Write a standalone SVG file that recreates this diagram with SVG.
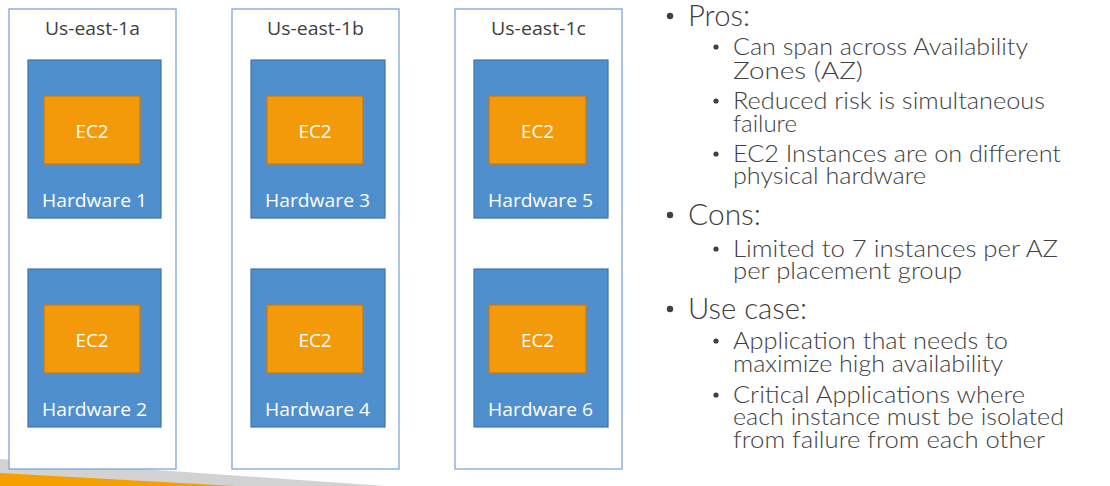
<svg xmlns="http://www.w3.org/2000/svg" width="1110" height="486" viewBox="0 0 1110 486">
<style>
.az{fill:#fff;stroke:#7ea6d8;stroke-width:1.3}
.hw{fill:#4f8fce;stroke:#3f74ad;stroke-width:1.2}
.ec2{fill:#f39a0a;stroke:#c57b1c;stroke-width:1.2}
.azt{font-family:"Open Sans","Noto Sans",sans-serif;font-size:19px;fill:#404040;text-anchor:middle}
.wt{font-family:"Open Sans","Noto Sans",sans-serif;font-size:19px;fill:#ffffff;text-anchor:middle}
.h1{font-family:Lato,"Open Sans",sans-serif;font-weight:300;font-size:30px;fill:#404040}
.h2{font-family:Lato,"Open Sans",sans-serif;font-weight:300;font-size:23px;fill:#404040}
.b1{fill:#404040}
</style>
<rect width="1110" height="486" fill="#ffffff"/>
<polygon points="0,459 385,486 0,486" fill="#d2d2d2"/>
<polygon points="0,473 235,486 0,486" fill="#f5a000"/>

<g id="az-1a">
<rect class="az" x="9" y="9" width="167" height="460"/>
<text class="azt" x="92.5" y="35" textLength="95" lengthAdjust="spacingAndGlyphs">Us-east-1a</text>
</g>
<g id="az-1b">
<rect class="az" x="232" y="9" width="167" height="460"/>
<text class="azt" x="315.5" y="35" textLength="97" lengthAdjust="spacingAndGlyphs">Us-east-1b</text>
</g>
<g id="az-1c">
<rect class="az" x="455" y="9" width="167" height="460"/>
<text class="azt" x="538.5" y="35" textLength="95" lengthAdjust="spacingAndGlyphs">Us-east-1c</text>
</g>

<g id="hw1">
<rect class="hw" x="28" y="60" width="133" height="158"/>
<rect class="ec2" x="44" y="96" width="96" height="68"/>
<text class="wt" x="92" y="138" textLength="33" lengthAdjust="spacingAndGlyphs">EC2</text>
<text class="wt" x="94.5" y="207" textLength="105" lengthAdjust="spacingAndGlyphs">Hardware 1</text>
</g>
<g id="hw2">
<rect class="hw" x="28" y="269" width="133" height="158"/>
<rect class="ec2" x="44" y="305" width="96" height="68"/>
<text class="wt" x="92" y="347" textLength="33" lengthAdjust="spacingAndGlyphs">EC2</text>
<text class="wt" x="94.5" y="416" textLength="105" lengthAdjust="spacingAndGlyphs">Hardware 2</text>
</g>
<g id="hw3">
<rect class="hw" x="251" y="60" width="134" height="158"/>
<rect class="ec2" x="267" y="96" width="96" height="68"/>
<text class="wt" x="315" y="138" textLength="33" lengthAdjust="spacingAndGlyphs">EC2</text>
<text class="wt" x="317.5" y="207" textLength="105" lengthAdjust="spacingAndGlyphs">Hardware 3</text>
</g>
<g id="hw4">
<rect class="hw" x="251" y="269" width="134" height="158"/>
<rect class="ec2" x="267" y="305" width="96" height="68"/>
<text class="wt" x="315" y="347" textLength="33" lengthAdjust="spacingAndGlyphs">EC2</text>
<text class="wt" x="317.5" y="416" textLength="105" lengthAdjust="spacingAndGlyphs">Hardware 4</text>
</g>
<g id="hw5">
<rect class="hw" x="474" y="60" width="134" height="158"/>
<rect class="ec2" x="489" y="96" width="97" height="68"/>
<text class="wt" x="537.5" y="138" textLength="33" lengthAdjust="spacingAndGlyphs">EC2</text>
<text class="wt" x="540.5" y="207" textLength="105" lengthAdjust="spacingAndGlyphs">Hardware 5</text>
</g>
<g id="hw6">
<rect class="hw" x="474" y="269" width="134" height="158"/>
<rect class="ec2" x="489" y="305" width="97" height="68"/>
<text class="wt" x="537.5" y="347" textLength="33" lengthAdjust="spacingAndGlyphs">EC2</text>
<text class="wt" x="540.5" y="416" textLength="105" lengthAdjust="spacingAndGlyphs">Hardware 6</text>
</g>

<g id="connectors"></g>

<g id="bullets">
<circle class="b1" cx="670" cy="16" r="3.2"/>
<text class="h1" x="688" y="26" textLength="62" lengthAdjust="spacingAndGlyphs">Pros:</text>
<circle class="b1" cx="716" cy="47" r="2.6"/>
<text class="h2" x="733" y="55" textLength="295" lengthAdjust="spacingAndGlyphs">Can span across Availability</text>
<text class="h2" x="733" y="79" textLength="130" lengthAdjust="spacingAndGlyphs">Zones (AZ)</text>
<circle class="b1" cx="716" cy="101" r="2.6"/>
<text class="h2" x="733" y="109" textLength="312" lengthAdjust="spacingAndGlyphs">Reduced risk is simultaneous</text>
<text class="h2" x="733" y="132" textLength="64" lengthAdjust="spacingAndGlyphs">failure</text>
<circle class="b1" cx="716" cy="154" r="2.6"/>
<text class="h2" x="733" y="162" textLength="328" lengthAdjust="spacingAndGlyphs">EC2 Instances are on different</text>
<text class="h2" x="733" y="184" textLength="193" lengthAdjust="spacingAndGlyphs">physical hardware</text>
<circle class="b1" cx="670" cy="215" r="3.2"/>
<text class="h1" x="688" y="225" textLength="73" lengthAdjust="spacingAndGlyphs">Cons:</text>
<circle class="b1" cx="716" cy="249" r="2.6"/>
<text class="h2" x="733" y="257" textLength="325" lengthAdjust="spacingAndGlyphs">Limited to 7 instances per AZ</text>
<text class="h2" x="733" y="279" textLength="229" lengthAdjust="spacingAndGlyphs">per placement group</text>
<circle class="b1" cx="670" cy="309" r="3.2"/>
<text class="h1" x="688" y="319" textLength="119" lengthAdjust="spacingAndGlyphs">Use case:</text>
<circle class="b1" cx="716" cy="341" r="2.6"/>
<text class="h2" x="733" y="349" textLength="275" lengthAdjust="spacingAndGlyphs">Application that needs to</text>
<text class="h2" x="733" y="372" textLength="270" lengthAdjust="spacingAndGlyphs">maximize high availability</text>
<circle class="b1" cx="716" cy="395" r="2.6"/>
<text class="h2" x="733" y="403" textLength="292" lengthAdjust="spacingAndGlyphs">Critical Applications where</text>
<text class="h2" x="733" y="425" textLength="331" lengthAdjust="spacingAndGlyphs">each instance must be isolated</text>
<text class="h2" x="733" y="448" textLength="312" lengthAdjust="spacingAndGlyphs">from failure from each other</text>
</g>
</svg>
